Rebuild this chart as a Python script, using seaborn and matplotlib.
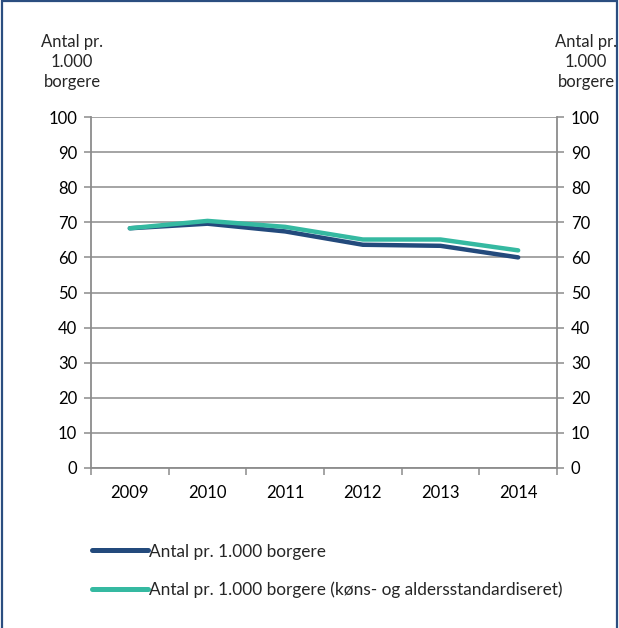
import matplotlib
matplotlib.use("Agg")
import matplotlib.pyplot as plt
import seaborn as sns
import pandas as pd
from matplotlib.patches import Rectangle
from matplotlib.lines import Line2D

years = ["2009", "2010", "2011", "2012", "2013", "2014"]
crude = [68.3, 69.6, 67.4, 63.6, 63.3, 60.0]
standardised = [68.3, 70.4, 68.7, 65.1, 65.1, 62.0]
series_names = ["Antal pr. 1.000 borgere",
                "Antal pr. 1.000 borgere (køns- og aldersstandardiseret)"]
y_ticks = [0, 10, 20, 30, 40, 50, 60, 70, 80, 90, 100]
axis_title = "Antal pr.\n1.000\nborgere"

sns.set_theme(style="white")
plt.rcParams["font.family"] = ["Lato", "DejaVu Sans"]

FS = 12
dark = "#234A7C"
teal = "#35B9A1"
grid_c = "#8C8C8C"

df = pd.DataFrame({
    "year": years * 2,
    "value": crude + standardised,
    "series": [series_names[0]] * len(years) + [series_names[1]] * len(years),
})
df["pos"] = df["year"].map({y: i for i, y in enumerate(years)})

fig = plt.figure(figsize=(6.19, 6.28), dpi=100)
ax = fig.add_axes([91 / 619, 1 - 468 / 628, (557 - 91) / 619, (468 - 117) / 628])

sns.lineplot(data=df, x="pos", y="value", hue="series", palette=[dark, teal],
             linewidth=3.2, ax=ax, legend=False, sort=False)
for ln in ax.lines:
    ln.set_solid_capstyle("round")
    ln.set_solid_joinstyle("round")

ax.set_xlim(-0.5, len(years) - 0.5)
ax.set_ylim(0, 100)
ax.set_yticks(y_ticks)
ax.set_xticks(range(len(years)))
ax.set_xticklabels(years)
ax.set_xticks([i - 0.5 for i in range(len(years) + 1)], minor=True)
ax.set_xlabel("")
ax.set_ylabel("")

for v in y_ticks:
    ax.axhline(v, color=grid_c, lw=1.1, zorder=0)

ax.spines["top"].set_visible(False)
for side in ["left", "right", "bottom"]:
    ax.spines[side].set_visible(True)
    ax.spines[side].set_color(grid_c)
    ax.spines[side].set_linewidth(1.3)

ax.tick_params(axis="y", which="both", left=True, right=True, labelleft=True,
               labelright=True, length=5, width=1.1, color=grid_c,
               labelsize=FS, labelcolor="#000000", pad=5)
ax.tick_params(axis="x", which="major", length=0, labelsize=FS,
               labelcolor="#000000", pad=12)
ax.tick_params(axis="x", which="minor", bottom=True, length=5, width=1.1,
               color=grid_c)

fig.text(72 / 619, 1 - 62 / 628, axis_title, ha="center", va="center",
         fontsize=FS, linespacing=1.32)
fig.text(586 / 619, 1 - 62 / 628, axis_title, ha="center", va="center",
         fontsize=FS, linespacing=1.32)

handles = [Line2D([], [], color=dark, lw=3.6, solid_capstyle="round"),
           Line2D([], [], color=teal, lw=3.6, solid_capstyle="round")]
fig.legend(handles, series_names, loc="upper left",
           bbox_to_anchor=(76 / 619, 1 - 528 / 628), frameon=False,
           fontsize=12.4, handlelength=3.3, handletextpad=0.05,
           labelspacing=1.25)

# outer frame
fig.add_artist(Rectangle((1.5 / 619, -0.05), 615 / 619, 1.05 - 1.5 / 628,
                         transform=fig.transFigure, fill=False,
                         edgecolor="#2B4E80", lw=1.6))

fig.savefig("out.png", dpi=100)
